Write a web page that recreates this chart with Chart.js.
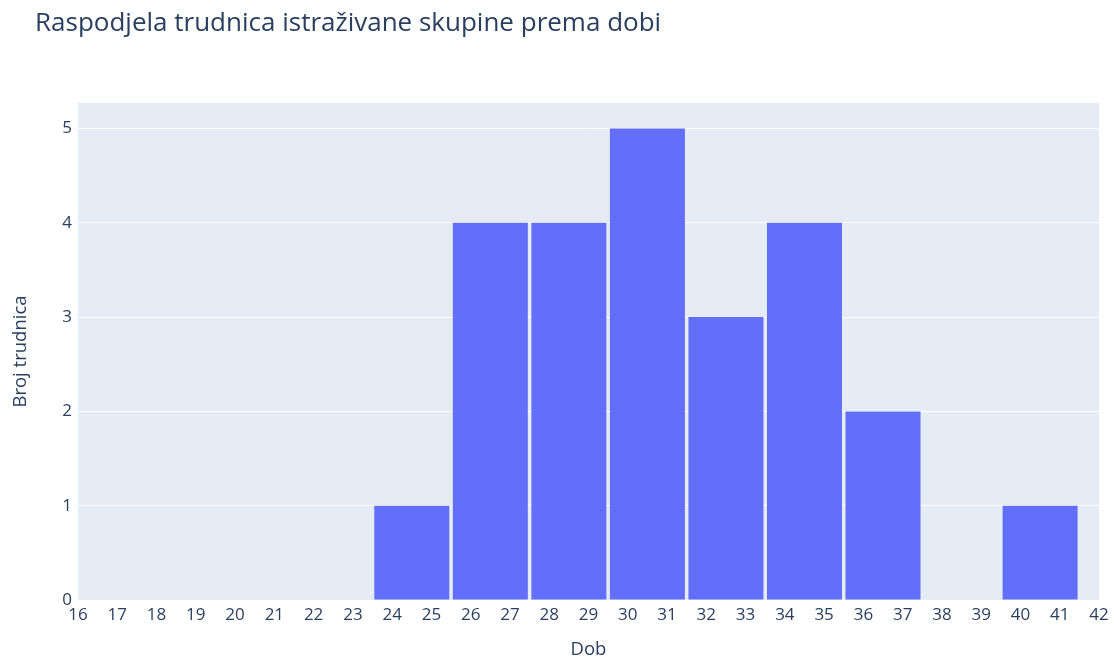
<!DOCTYPE html>
<html>
<head>
<meta charset="utf-8">
<script src="https://cdn.jsdelivr.net/npm/chart.js@4.4.1/dist/chart.umd.min.js"></script>
<style>
html,body{margin:0;padding:0;background:#fff;}
#wrap{width:1114px;height:665px;position:relative;}
</style>
</head>
<body>
<div id="wrap"><canvas id="c" width="1114" height="665"></canvas></div>
<script>
const titleText = "Raspodjela trudnica istraživane skupine prema dobi";
const xTitle = "Dob";
const yTitle = "Broj trudnica";
const binCenters = [24.5, 26.5, 28.5, 30.5, 32.5, 34.5, 36.5, 38.5, 40.5];
const counts = [1, 4, 4, 5, 3, 4, 2, 0, 1];
const xMin = 16, xMax = 42;
const yMax = 5.27;

const TEXT = "#2a3f5f";
const FONT = "'Open Sans', 'DejaVu Sans', sans-serif";

const bgPlugin = {
  id: 'plotBg',
  beforeDraw(chart) {
    const {ctx, chartArea: a} = chart;
    ctx.save();
    ctx.fillStyle = '#E5ECF6';
    ctx.fillRect(a.left, a.top, a.right - a.left, a.bottom - a.top);
    ctx.restore();
  },
  afterDraw(chart) {
    const {ctx} = chart;
    ctx.save();
    ctx.fillStyle = TEXT;
    ctx.font = "26px " + FONT;
    ctx.textBaseline = 'middle';
    ctx.textAlign = 'left';
    ctx.fillText(titleText, 35, 24);
    ctx.restore();
  }
};

Chart.defaults.font.family = FONT;
Chart.defaults.color = TEXT;

new Chart(document.getElementById('c'), {
  type: 'bar',
  data: {
    datasets: [{
      data: binCenters.map((x, i) => ({x: x, y: counts[i]})),
      backgroundColor: '#636EFA',
      borderWidth: 0,
      // minimum sample spacing is one tick (1 year); each bin spans 2 years
      barPercentage: 1.91,
      categoryPercentage: 1.0
    }]
  },
  options: {
    responsive: false,
    animation: false,
    layout: {padding: {left: 0, right: 15, top: 103, bottom: 0}},
    plugins: {legend: {display: false}, tooltip: {enabled: false}, title: {display: false}},
    scales: {
      x: {
        type: 'linear',
        min: xMin, max: xMax,
        offset: false,
        grid: {display: false, offset: false},
        border: {display: false},
        ticks: {stepSize: 1, font: {size: 17}, color: TEXT, padding: -3, maxRotation: 0, autoSkip: false},
        title: {display: true, text: xTitle, font: {size: 18.5}, color: TEXT, padding: {top: 20}},
        afterFit(scale) { scale.height = 65; }
      },
      y: {
        min: 0, max: yMax,
        grid: {color: '#ffffff', lineWidth: 1, drawTicks: false},
        border: {display: false},
        ticks: {stepSize: 1, includeBounds: false, font: {size: 17}, color: TEXT, padding: 6},
        title: {display: true, text: yTitle, font: {size: 18.5}, color: TEXT, padding: {top: 10, bottom: 16}},
        afterFit(scale) { scale.width = 78; }
      }
    }
  },
  plugins: [bgPlugin]
});
</script>
</body>
</html>
